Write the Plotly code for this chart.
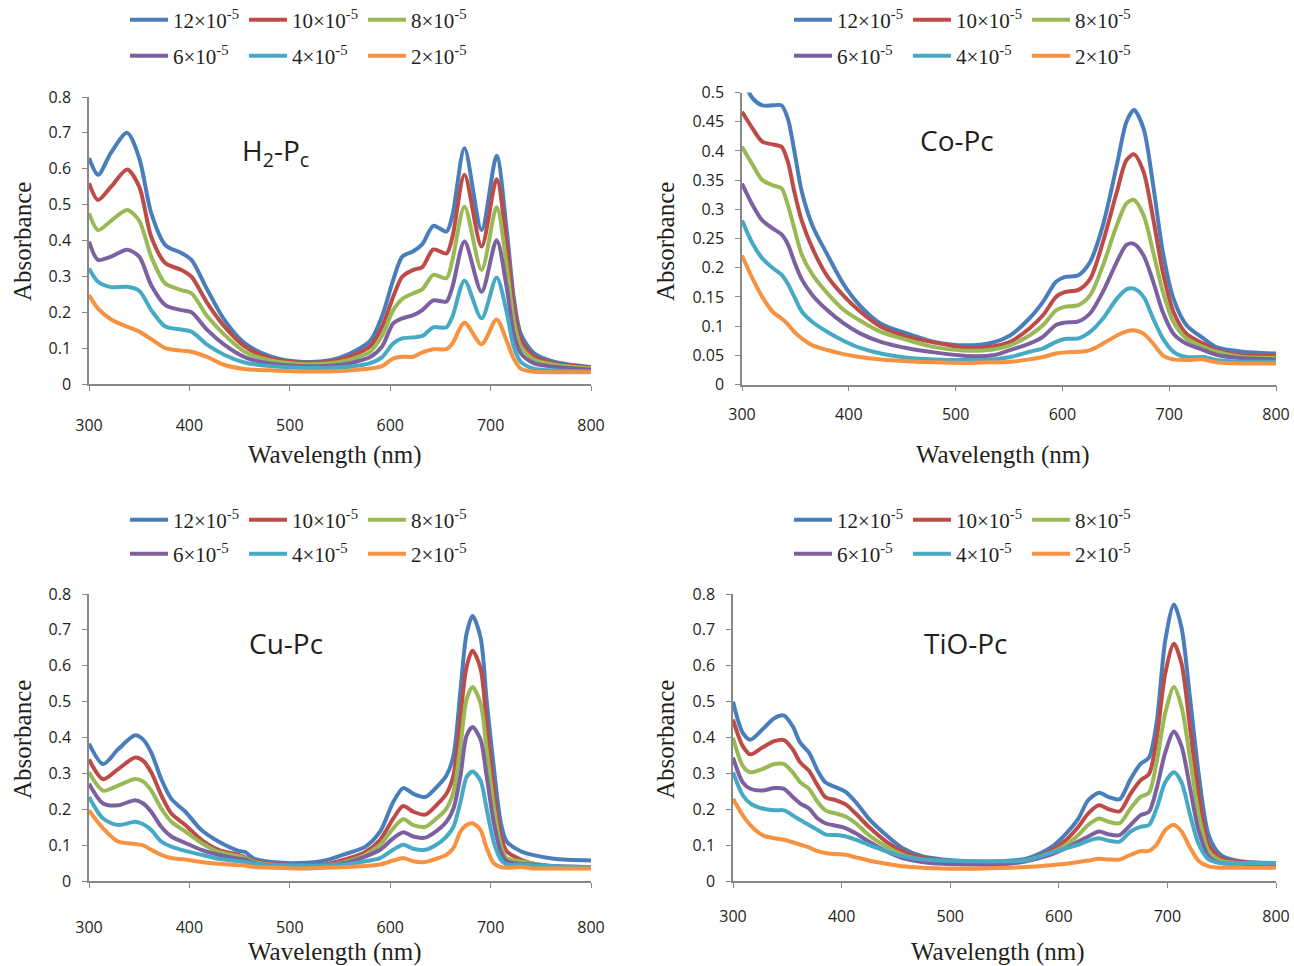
import plotly.graph_objects as go

W, H = 1294, 966

SERIES_NAMES = ["12×10<sup>-5</sup>", "10×10<sup>-5</sup>", "8×10<sup>-5</sup>",
                "6×10<sup>-5</sup>", "4×10<sup>-5</sup>", "2×10<sup>-5</sup>"]
COLORS = ["#4A7EBB", "#BE4B48", "#98B954", "#7D60A0", "#46AAC5", "#F69240"]

# ---------------- H2-Pc ----------------
wl_h2 = [300, 309, 322, 338, 350, 362, 376, 392, 402, 418, 435, 455, 480, 510, 540, 560, 580,
         592, 603, 612, 623, 632, 643, 656, 662, 674, 691, 706, 716, 723, 730, 743, 763, 800]
h2_12 = [0.63, 0.583, 0.645, 0.70, 0.63, 0.476, 0.387, 0.365, 0.346, 0.262, 0.178, 0.114, 0.078, 0.062, 0.066, 0.085, 0.12,
         0.19, 0.29, 0.355, 0.37, 0.39, 0.441, 0.425, 0.47, 0.657, 0.429, 0.636, 0.43, 0.243, 0.14, 0.086, 0.062, 0.047]
h2_10 = [0.56, 0.513, 0.55, 0.598, 0.55, 0.41, 0.337, 0.318, 0.299, 0.225, 0.16, 0.105, 0.072, 0.06, 0.062, 0.077, 0.105,
         0.16, 0.243, 0.299, 0.318, 0.326, 0.375, 0.364, 0.41, 0.583, 0.383, 0.571, 0.39, 0.216, 0.123, 0.076, 0.058, 0.046]
h2_8 = [0.476, 0.429, 0.455, 0.485, 0.455, 0.355, 0.28, 0.262, 0.253, 0.188, 0.137, 0.09, 0.066, 0.056, 0.058, 0.068, 0.09,
        0.135, 0.206, 0.237, 0.253, 0.264, 0.304, 0.295, 0.346, 0.494, 0.318, 0.493, 0.33, 0.178, 0.105, 0.068, 0.054, 0.044]
h2_6 = [0.397, 0.346, 0.355, 0.374, 0.355, 0.275, 0.22, 0.206, 0.2, 0.15, 0.109, 0.075, 0.057, 0.05, 0.051, 0.058, 0.075,
        0.105, 0.169, 0.183, 0.192, 0.206, 0.233, 0.23, 0.271, 0.397, 0.257, 0.401, 0.27, 0.141, 0.086, 0.058, 0.048, 0.04]
h2_4 = [0.322, 0.285, 0.27, 0.271, 0.26, 0.206, 0.16, 0.152, 0.146, 0.109, 0.081, 0.06, 0.05, 0.045, 0.045, 0.048, 0.058,
        0.075, 0.113, 0.127, 0.13, 0.134, 0.158, 0.158, 0.188, 0.288, 0.183, 0.297, 0.2, 0.104, 0.062, 0.043, 0.038, 0.035]
h2_2 = [0.248, 0.21, 0.18, 0.16, 0.146, 0.125, 0.1, 0.093, 0.09, 0.075, 0.053, 0.042, 0.038, 0.035, 0.035, 0.038, 0.043,
        0.05, 0.071, 0.076, 0.076, 0.088, 0.097, 0.097, 0.113, 0.171, 0.111, 0.18, 0.12, 0.071, 0.043, 0.034, 0.033, 0.033]

# ---------------- Co-Pc ----------------
wl_co = [300, 310, 319, 329, 337, 343, 349, 356, 366, 380, 395, 410, 430, 455, 480, 510, 535, 551, 569,
         582, 594, 602, 615, 626, 638, 651, 660, 667, 676, 685, 694, 704, 716, 732, 744, 769, 800]
co_12 = [0.525, 0.49, 0.478, 0.478, 0.478, 0.455, 0.40, 0.33, 0.272, 0.222, 0.172, 0.136, 0.104, 0.087, 0.073, 0.067, 0.072, 0.084, 0.113,
         0.142, 0.176, 0.184, 0.187, 0.21, 0.273, 0.376, 0.45, 0.47, 0.438, 0.341, 0.227, 0.147, 0.102, 0.079, 0.064, 0.056, 0.053]
co_10 = [0.467, 0.438, 0.416, 0.411, 0.407, 0.381, 0.33, 0.28, 0.233, 0.185, 0.152, 0.126, 0.099, 0.082, 0.072, 0.063, 0.065, 0.073, 0.096,
         0.119, 0.15, 0.158, 0.162, 0.181, 0.244, 0.33, 0.384, 0.394, 0.364, 0.284, 0.193, 0.124, 0.087, 0.07, 0.059, 0.05, 0.049]
co_8 = [0.407, 0.376, 0.35, 0.341, 0.336, 0.307, 0.267, 0.222, 0.188, 0.156, 0.128, 0.11, 0.09, 0.076, 0.064, 0.058, 0.06, 0.067, 0.084,
        0.102, 0.127, 0.133, 0.136, 0.153, 0.204, 0.273, 0.31, 0.316, 0.29, 0.227, 0.159, 0.107, 0.079, 0.064, 0.056, 0.047, 0.046]
co_6 = [0.344, 0.307, 0.281, 0.267, 0.257, 0.24, 0.21, 0.18, 0.153, 0.127, 0.105, 0.088, 0.073, 0.062, 0.055, 0.049, 0.05, 0.059, 0.07,
        0.082, 0.102, 0.106, 0.108, 0.122, 0.159, 0.21, 0.239, 0.241, 0.221, 0.176, 0.124, 0.087, 0.07, 0.059, 0.051, 0.045, 0.043]
co_4 = [0.281, 0.241, 0.216, 0.199, 0.188, 0.172, 0.15, 0.125, 0.107, 0.09, 0.075, 0.063, 0.053, 0.046, 0.043, 0.042, 0.043, 0.047, 0.056,
        0.062, 0.073, 0.078, 0.079, 0.09, 0.113, 0.147, 0.163, 0.164, 0.15, 0.113, 0.079, 0.056, 0.047, 0.047, 0.042, 0.039, 0.039]
co_2 = [0.221, 0.181, 0.15, 0.124, 0.113, 0.103, 0.09, 0.079, 0.067, 0.059, 0.052, 0.047, 0.043, 0.04, 0.038, 0.037, 0.038, 0.039, 0.043,
        0.047, 0.053, 0.055, 0.056, 0.059, 0.07, 0.084, 0.091, 0.093, 0.087, 0.07, 0.05, 0.043, 0.042, 0.043, 0.038, 0.036, 0.036]

# ---------------- Cu-Pc ----------------
wl_cu = [300, 314, 329, 346, 354, 362, 372, 382, 396, 412, 429, 449, 455, 465, 482, 509, 535, 555, 575, 590,
         603, 613, 623, 635, 646, 656, 663, 670, 676, 682, 690, 696, 703, 710, 716, 730, 743, 763, 800]
cu_12 = [0.383, 0.326, 0.367, 0.406, 0.394, 0.358, 0.284, 0.229, 0.193, 0.142, 0.11, 0.084, 0.081, 0.062, 0.053, 0.05, 0.057, 0.075, 0.095, 0.138,
         0.22, 0.259, 0.243, 0.234, 0.261, 0.294, 0.349, 0.532, 0.688, 0.739, 0.679, 0.505, 0.321, 0.165, 0.11, 0.083, 0.072, 0.062, 0.057]
cu_10 = [0.339, 0.284, 0.312, 0.344, 0.335, 0.303, 0.239, 0.188, 0.156, 0.115, 0.087, 0.073, 0.066, 0.055, 0.048, 0.044, 0.046, 0.06, 0.08, 0.115,
         0.174, 0.209, 0.193, 0.185, 0.211, 0.243, 0.294, 0.459, 0.596, 0.642, 0.592, 0.44, 0.257, 0.128, 0.083, 0.06, 0.048, 0.041, 0.039]
cu_8 = [0.303, 0.252, 0.266, 0.284, 0.277, 0.252, 0.202, 0.165, 0.138, 0.106, 0.081, 0.069, 0.064, 0.053, 0.046, 0.043, 0.044, 0.053, 0.073, 0.101,
        0.147, 0.172, 0.156, 0.151, 0.174, 0.202, 0.248, 0.376, 0.505, 0.541, 0.495, 0.367, 0.211, 0.101, 0.064, 0.055, 0.048, 0.041, 0.039]
cu_6 = [0.271, 0.216, 0.211, 0.225, 0.216, 0.193, 0.151, 0.124, 0.106, 0.087, 0.073, 0.062, 0.06, 0.05, 0.044, 0.043, 0.044, 0.05, 0.068, 0.087,
        0.119, 0.136, 0.124, 0.121, 0.139, 0.165, 0.202, 0.294, 0.404, 0.429, 0.394, 0.294, 0.165, 0.083, 0.055, 0.048, 0.046, 0.041, 0.039]
cu_4 = [0.234, 0.174, 0.156, 0.165, 0.158, 0.142, 0.11, 0.096, 0.084, 0.073, 0.062, 0.055, 0.053, 0.048, 0.044, 0.043, 0.043, 0.046, 0.055, 0.064,
        0.087, 0.101, 0.09, 0.087, 0.101, 0.124, 0.151, 0.22, 0.289, 0.305, 0.28, 0.202, 0.11, 0.06, 0.046, 0.046, 0.044, 0.041, 0.039]
cu_2 = [0.197, 0.147, 0.11, 0.103, 0.099, 0.087, 0.073, 0.064, 0.06, 0.053, 0.048, 0.044, 0.043, 0.039, 0.037, 0.035, 0.037, 0.039, 0.042, 0.046,
        0.057, 0.064, 0.055, 0.053, 0.062, 0.073, 0.092, 0.138, 0.156, 0.161, 0.142, 0.092, 0.05, 0.039, 0.037, 0.039, 0.035, 0.035, 0.035]

# ---------------- TiO-Pc ----------------
wl_ti = [300, 309, 316, 327, 338, 347, 355, 362, 370, 378, 385, 395, 404, 413, 425, 441, 456, 474, 493, 517, 546,
         570, 592, 607, 618, 627, 637, 646, 656, 666, 675, 683, 690, 698, 706, 713, 721, 729, 738, 749, 767, 800]
ti_12 = [0.5, 0.413, 0.394, 0.422, 0.454, 0.461, 0.431, 0.385, 0.358, 0.307, 0.275, 0.261, 0.248, 0.22, 0.174, 0.128, 0.092, 0.069, 0.06, 0.055, 0.055,
         0.062, 0.092, 0.133, 0.174, 0.225, 0.246, 0.234, 0.228, 0.284, 0.326, 0.344, 0.44, 0.67, 0.771, 0.706, 0.505, 0.294, 0.128, 0.073, 0.055, 0.05]
ti_10 = [0.45, 0.376, 0.353, 0.372, 0.39, 0.393, 0.367, 0.33, 0.307, 0.266, 0.234, 0.225, 0.213, 0.188, 0.151, 0.11, 0.083, 0.064, 0.057, 0.053, 0.05,
         0.058, 0.083, 0.115, 0.151, 0.188, 0.211, 0.2, 0.194, 0.243, 0.28, 0.298, 0.394, 0.578, 0.661, 0.606, 0.422, 0.239, 0.101, 0.064, 0.053, 0.05]
ti_8 = [0.399, 0.321, 0.303, 0.312, 0.326, 0.326, 0.303, 0.275, 0.257, 0.22, 0.197, 0.188, 0.179, 0.161, 0.128, 0.096, 0.073, 0.06, 0.055, 0.053, 0.05,
        0.058, 0.078, 0.101, 0.128, 0.156, 0.174, 0.165, 0.161, 0.202, 0.234, 0.246, 0.33, 0.468, 0.541, 0.486, 0.339, 0.183, 0.083, 0.057, 0.05, 0.048]
ti_6 = [0.344, 0.275, 0.257, 0.252, 0.259, 0.257, 0.234, 0.216, 0.202, 0.174, 0.161, 0.154, 0.147, 0.133, 0.11, 0.083, 0.064, 0.053, 0.048, 0.046, 0.046,
        0.055, 0.073, 0.092, 0.11, 0.124, 0.138, 0.13, 0.128, 0.156, 0.183, 0.193, 0.257, 0.358, 0.417, 0.376, 0.257, 0.138, 0.069, 0.05, 0.048, 0.046]
ti_4 = [0.303, 0.239, 0.216, 0.202, 0.197, 0.197, 0.183, 0.17, 0.156, 0.142, 0.13, 0.128, 0.124, 0.115, 0.101, 0.083, 0.069, 0.06, 0.057, 0.055, 0.055,
        0.058, 0.078, 0.092, 0.101, 0.112, 0.119, 0.112, 0.11, 0.138, 0.151, 0.156, 0.202, 0.275, 0.303, 0.275, 0.183, 0.101, 0.06, 0.05, 0.05, 0.05]
ti_2 = [0.229, 0.183, 0.156, 0.128, 0.119, 0.115, 0.108, 0.101, 0.094, 0.083, 0.078, 0.075, 0.073, 0.066, 0.057, 0.048, 0.041, 0.037, 0.035, 0.034, 0.036,
        0.039, 0.044, 0.048, 0.053, 0.057, 0.062, 0.06, 0.06, 0.073, 0.083, 0.084, 0.101, 0.142, 0.156, 0.138, 0.092, 0.055, 0.041, 0.037, 0.037, 0.037]

X_TICKS = [300, 400, 500, 600, 700, 800]

# panel layout in pixels: plot box, y range, label / title positions
PANELS = [
    dict(title="H<sub>2</sub>-P<sub>c</sub>", wl=wl_h2, ys=[h2_12, h2_10, h2_8, h2_6, h2_4, h2_2],
         left=89, right=591, bottom=384, top=97, ymax=0.8, dtick=0.1, xstand=21,
         tpos=(275, 152), leg_x=125, leg_rows=(20, 56), xt=(335, 455), yt=(22, 242)),
    dict(title="Co-Pc", wl=wl_co, ys=[co_12, co_10, co_8, co_6, co_4, co_2],
         left=742, right=1276, bottom=384.5, top=92.5, ymax=0.5, dtick=0.05, xstand=10,
         tpos=(957, 140), leg_x=789, leg_rows=(20, 56), xt=(1003, 455), yt=(665, 242)),
    dict(title="Cu-Pc", wl=wl_cu, ys=[cu_12, cu_10, cu_8, cu_6, cu_4, cu_2],
         left=89, right=591, bottom=881, top=594, ymax=0.8, dtick=0.1, xstand=26,
         tpos=(286, 643), leg_x=125, leg_rows=(520, 554), xt=(335, 952), yt=(22, 740)),
    dict(title="TiO-Pc", wl=wl_ti, ys=[ti_12, ti_10, ti_8, ti_6, ti_4, ti_2],
         left=733, right=1276, bottom=881, top=594, ymax=0.8, dtick=0.1, xstand=15,
         tpos=(966, 643), leg_x=789, leg_rows=(520, 554), xt=(998, 952), yt=(665, 740)),
]


def fx(px):
    return px / W


def fy(py):
    return 1 - py / H


fig = go.Figure()
layout = dict(
    width=W, height=H, margin=dict(l=0, r=0, t=0, b=0, autoexpand=False),
    paper_bgcolor="white", plot_bgcolor="white", showlegend=True,
    annotations=[],
)

AXIS_COLOR = "#878787"
TICK_FONT = dict(family="Open Sans", size=16, color="#231F20")
SERIF = "Liberation Serif"

legend_count = 0
for i, p in enumerate(PANELS):
    n = i + 1
    xa = "xaxis" if n == 1 else f"xaxis{n}"
    ya = "yaxis" if n == 1 else f"yaxis{n}"
    xref = "x" if n == 1 else f"x{n}"
    yref = "y" if n == 1 else f"y{n}"

    legend_ids = []
    for r, row_y in enumerate(p["leg_rows"]):
        legend_count += 1
        lid = "legend" if legend_count == 1 else f"legend{legend_count}"
        legend_ids.append(lid)
        layout[lid] = dict(
            orientation="h", x=fx(p["leg_x"]), xanchor="left",
            y=fy(row_y), yanchor="middle",
            bgcolor="rgba(0,0,0,0)", borderwidth=0,
            font=dict(family=SERIF, size=21, color="#231F20"),
            entrywidth=66, entrywidthmode="pixels", itemwidth=38,
            traceorder="normal", tracegroupgap=0,
        )

    for k, (name, color, vals) in enumerate(zip(SERIES_NAMES, COLORS, p["ys"])):
        fig.add_trace(go.Scatter(
            x=p["wl"], y=vals, name=name, mode="lines",
            line=dict(color=color, width=4, shape="spline", smoothing=0.8),
            xaxis=xref, yaxis=yref,
            legend=legend_ids[0 if k < 3 else 1],
            hoverinfo="x+y+name",
        ))

    layout[xa] = dict(
        domain=[fx(p["left"]), fx(p["right"])], anchor=yref,
        range=[300, 800], tickvals=X_TICKS, ticks="outside", ticklen=5,
        tickcolor=AXIS_COLOR, tickwidth=1.3,
        showline=True, linecolor=AXIS_COLOR, linewidth=1.5,
        showgrid=False, zeroline=False, tickfont=TICK_FONT,
        ticklabelstandoff=p["xstand"],
    )
    layout[ya] = dict(
        domain=[fy(p["bottom"]), fy(p["top"])], anchor=xref,
        range=[0, p["ymax"]], dtick=p["dtick"], tick0=0,
        ticks="outside", ticklen=5, tickcolor=AXIS_COLOR, tickwidth=1.3,
        showline=True, linecolor=AXIS_COLOR, linewidth=1.5,
        showgrid=False, zeroline=False, tickfont=TICK_FONT,
        ticklabelstandoff=8,
    )

    # compound label inside the plot
    layout["annotations"].append(dict(
        text=p["title"], x=fx(p["tpos"][0]), y=fy(p["tpos"][1]),
        xref="paper", yref="paper", xanchor="center", yanchor="middle",
        showarrow=False, font=dict(family="Open Sans", size=28, color="#231F20"),
    ))
    # axis titles
    layout["annotations"].append(dict(
        text="Wavelength (nm)", x=fx(p["xt"][0]), y=fy(p["xt"][1]),
        xref="paper", yref="paper", xanchor="center", yanchor="middle",
        showarrow=False, font=dict(family=SERIF, size=25, color="#231F20"),
    ))
    layout["annotations"].append(dict(
        text="Absorbance", x=fx(p["yt"][0]), y=fy(p["yt"][1]), textangle=-90,
        xref="paper", yref="paper", xanchor="center", yanchor="middle",
        showarrow=False, font=dict(family=SERIF, size=25, color="#231F20"),
    ))

fig.update_layout(**layout)
fig.write_html("out.html")
